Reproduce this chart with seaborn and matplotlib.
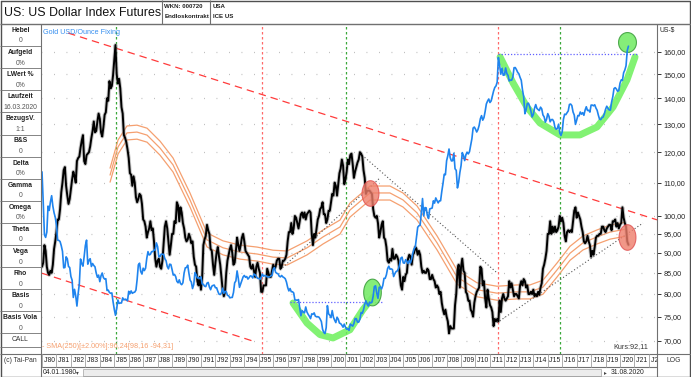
import numpy as np
import pandas as pd
import seaborn as sns
import matplotlib.pyplot as plt
from matplotlib.path import Path
from matplotlib.transforms import Bbox, TransformedBbox

# ---------------------------------------------------------------- data
# US Dollar Index, one value per month, Jan 1980 .. Aug 2020
usd = [
    86.5, 87.5, 92.0, 90.5, 86.5, 85.0, 84.5, 85.5, 85.0, 87.0, 91.0, 93.0,
    95.5, 99.0, 99.0, 102.0, 107.0, 110.0, 114.0, 115.0, 109.0, 106.0, 103.5, 105.0,
    108.0, 111.0, 113.5, 112.0, 110.0, 117.0, 118.0, 118.5, 121.5, 124.0, 126.0, 117.0,
    116.0, 119.0, 119.5, 120.0, 122.0, 125.0, 127.5, 131.0, 127.0, 127.5, 131.0, 134.0,
    132.0, 127.0, 125.5, 129.0, 133.5, 134.5, 140.0, 139.0, 147.0, 144.0, 145.0, 149.5,
    156.0, 163.0, 150.0, 146.0, 148.0, 144.0, 136.5, 134.0, 126.0, 125.0, 123.5, 121.0,
    118.0, 113.0, 112.5, 109.0, 112.0, 110.0, 105.5, 104.0, 105.0, 106.5, 106.0, 103.5,
    99.0, 98.5, 97.0, 94.0, 95.5, 96.5, 98.5, 96.0, 96.5, 93.0, 88.5, 86.5,
    88.0, 88.5, 86.5, 86.0, 88.0, 92.5, 97.0, 98.5, 96.5, 93.0, 89.5, 92.0,
    95.0, 95.0, 98.5, 98.0, 104.0, 103.0, 98.5, 102.5, 101.0, 98.0, 96.5, 94.0,
    93.0, 93.5, 95.0, 94.0, 92.5, 93.0, 89.0, 87.0, 86.5, 83.0, 82.0, 84.0,
    81.0, 84.0, 92.0, 93.5, 94.5, 97.5, 96.0, 95.0, 91.0, 90.5, 87.0, 84.5,
    87.5, 90.0, 91.5, 89.0, 87.0, 84.0, 81.0, 79.5, 80.5, 85.0, 88.0, 89.5,
    91.0, 92.0, 90.0, 87.0, 87.5, 90.5, 94.0, 92.0, 90.5, 92.0, 94.0, 95.0,
    93.0, 90.5, 90.0, 89.5, 89.0, 86.5, 86.0, 87.0, 85.5, 84.0, 86.5, 87.5,
    86.0, 85.0, 80.5, 80.5, 82.0, 82.0, 82.0, 86.0, 85.0, 84.0, 84.0, 85.5,
    87.0, 86.0, 86.5, 88.0, 88.5, 88.5, 86.0, 86.5, 88.0, 88.0, 88.5, 89.5,
    93.0, 95.5, 95.5, 98.0, 95.0, 96.5, 100.0, 99.5, 98.0, 96.5, 98.5, 100.5,
    101.0, 99.5, 101.0, 99.0, 100.5, 101.0, 101.5, 101.0, 95.0, 92.0, 95.0, 94.0,
    96.5, 99.0, 100.0, 102.0, 102.5, 104.0, 100.5, 100.5, 98.0, 99.0, 101.5, 101.5,
    104.0, 106.5, 106.0, 110.0, 109.0, 106.0, 109.5, 113.0, 114.5, 117.5, 115.5, 109.5,
    111.0, 113.5, 117.5, 116.0, 119.0, 119.5, 116.0, 111.5, 113.5, 115.0, 116.5, 117.5,
    120.0, 119.5, 118.5, 114.0, 111.5, 106.5, 107.5, 107.5, 107.5, 107.0, 106.5, 102.0,
    100.0, 99.5, 100.0, 98.0, 94.0, 95.5, 97.5, 98.5, 94.0, 93.5, 91.5, 88.0,
    87.5, 88.5, 88.0, 91.0, 88.5, 88.5, 89.5, 89.0, 88.0, 85.0, 82.0, 81.0,
    84.0, 83.0, 84.5, 85.0, 88.5, 89.5, 89.0, 87.0, 89.5, 90.0, 91.5, 91.0,
    89.5, 90.5, 89.5, 86.5, 85.0, 85.5, 85.0, 85.0, 86.0, 85.5, 83.5, 83.5,
    84.5, 83.5, 83.0, 81.5, 82.0, 81.5, 80.0, 80.5, 78.0, 76.5, 75.5, 76.5,
    75.0, 74.0, 71.5, 73.0, 72.5, 72.5, 72.5, 77.5, 80.0, 85.5, 87.0, 81.5,
    86.5, 88.5, 85.5, 85.0, 80.5, 80.0, 78.5, 78.5, 76.5, 76.0, 75.0, 78.0,
    79.5, 80.5, 81.0, 81.5, 86.5, 86.0, 82.0, 83.0, 79.0, 77.0, 81.0, 79.0,
    77.5, 77.0, 76.0, 73.0, 74.5, 74.0, 74.5, 74.0, 78.5, 76.0, 79.0, 80.0,
    79.0, 78.5, 79.0, 79.5, 83.0, 81.5, 82.5, 81.0, 79.5, 80.0, 80.0, 79.5,
    79.0, 82.0, 83.0, 82.0, 83.5, 83.0, 81.5, 82.0, 80.0, 80.0, 80.5, 80.0,
    81.0, 79.5, 80.0, 79.5, 80.5, 79.8, 81.5, 82.5, 86.0, 87.0, 88.5, 90.5,
    95.0, 95.0, 98.5, 95.0, 97.0, 95.5, 97.0, 95.5, 96.0, 97.0, 100.0, 98.5,
    99.5, 98.0, 94.5, 93.0, 95.5, 96.0, 95.5, 96.0, 95.5, 98.5, 101.5, 102.5,
    99.5, 101.0, 100.0, 99.0, 97.0, 95.5, 93.0, 92.5, 93.0, 94.5, 93.0, 92.0,
    89.0, 90.5, 89.5, 91.5, 94.0, 94.5, 94.5, 95.0, 95.0, 97.0, 97.0, 96.0,
    95.5, 96.5, 97.0, 97.5, 97.5, 96.0, 98.5, 98.5, 99.0, 97.0, 98.0, 96.5,
    97.5, 98.0, 102.5, 99.5, 98.0, 97.0, 93.0, 92.1,
]

# Gold USD/Ounce fixing, one value per month, Jan 1980 .. Aug 2020
gold = [
    820, 660, 520, 510, 530, 640, 620, 660, 690, 640, 610, 590,
    557, 500, 499, 495, 480, 461, 409, 410, 443, 437, 413, 410,
    384, 374, 330, 350, 334, 310, 339, 364, 436, 422, 414, 444,
    481, 500, 420, 432, 437, 413, 422, 416, 412, 394, 382, 388,
    370, 386, 394, 381, 377, 378, 347, 348, 342, 340, 341, 320,
    303, 290, 304, 324, 316, 317, 317, 329, 324, 326, 325, 322,
    345, 339, 346, 340, 342, 343, 348, 376, 418, 423, 398, 391,
    408, 401, 408, 438, 460, 449, 451, 460, 460, 465, 466, 490,
    477, 443, 444, 452, 451, 451, 437, 431, 413, 406, 420, 419,
    404, 388, 390, 384, 371, 367, 375, 365, 362, 367, 394, 409,
    410, 417, 393, 374, 369, 352, 362, 395, 389, 380, 381, 378,
    383, 364, 363, 358, 357, 366, 368, 356, 349, 358, 360, 361,
    354, 354, 345, 338, 337, 341, 353, 340, 345, 344, 335, 334,
    329, 330, 330, 342, 367, 372, 400, 379, 355, 364, 373, 383,
    387, 382, 384, 377, 381, 386, 385, 380, 391, 389, 384, 379,
    379, 376, 382, 391, 385, 387, 386, 383, 383, 383, 386, 387,
    405, 410, 396, 393, 392, 385, 383, 387, 383, 381, 378, 369,
    355, 346, 352, 344, 344, 341, 324, 324, 323, 325, 306, 289,
    300, 297, 295, 308, 297, 292, 288, 283, 293, 292, 295, 288,
    287, 287, 286, 282, 277, 262, 256, 254, 265, 311, 293, 290,
    285, 300, 286, 280, 275, 286, 282, 274, 273, 270, 266, 272,
    266, 262, 263, 260, 272, 270, 268, 273, 283, 283, 276, 276,
    282, 296, 294, 302, 314, 322, 314, 310, 319, 317, 319, 333,
    357, 359, 340, 328, 355, 356, 351, 360, 379, 379, 389, 407,
    414, 405, 406, 404, 384, 392, 398, 400, 406, 420, 439, 442,
    424, 423, 434, 429, 422, 431, 424, 437, 456, 470, 476, 510,
    549, 555, 557, 610, 676, 596, 633, 632, 598, 585, 627, 629,
    631, 665, 654, 679, 666, 655, 665, 665, 712, 754, 806, 803,
    889, 922, 968, 909, 888, 889, 939, 839, 829, 730, 760, 816,
    858, 943, 924, 890, 928, 946, 934, 949, 996, 1043, 1127, 1135,
    1118, 1095, 1114, 1148, 1205, 1233, 1193, 1215, 1271, 1342, 1370, 1391,
    1356, 1372, 1424, 1473, 1512, 1529, 1572, 1880, 1780, 1665, 1739, 1652,
    1656, 1742, 1673, 1650, 1585, 1596, 1594, 1630, 1745, 1747, 1721, 1688,
    1670, 1627, 1593, 1487, 1414, 1250, 1286, 1347, 1349, 1316, 1275, 1221,
    1244, 1300, 1336, 1299, 1288, 1279, 1311, 1295, 1239, 1222, 1176, 1201,
    1251, 1227, 1179, 1198, 1199, 1181, 1131, 1117, 1125, 1159, 1086, 1068,
    1097, 1200, 1246, 1242, 1259, 1276, 1337, 1341, 1326, 1266, 1238, 1157,
    1192, 1234, 1231, 1266, 1246, 1260, 1236, 1283, 1315, 1280, 1282, 1265,
    1331, 1331, 1324, 1334, 1303, 1282, 1238, 1202, 1198, 1215, 1221, 1250,
    1291, 1320, 1300, 1285, 1283, 1359, 1413, 1500, 1510, 1495, 1471, 1480,
    1560, 1597, 1591, 1683, 1716, 1770, 1975, 2040,
]

# SMA(250) mid line of the envelope (dollar index)
sma_years = [1984.71, 1985.26, 1985.88, 1986.57, 1987.27, 1988.17, 1989.07, 1990.24,
             1991.42, 1992.53, 1993.70, 1994.88, 1995.99, 1996.96, 1998.34, 1999.45,
             2000.62, 2001.31, 2002.70, 2004.08, 2004.98, 2005.95, 2007.34, 2008.72,
             2010.10, 2011.49, 2012.87, 2013.77, 2014.67, 2015.64, 2016.54, 2017.44,
             2018.41, 2019.31, 2020.30]
sma_mid = [112.4, 121.8, 126.8, 127.1, 126.0, 121.4, 115.7, 104.7,
           93.4, 91.3, 90.2, 89.7, 88.9, 88.7, 91.3, 94.2,
           96.9, 101.7, 106.8, 106.8, 104.7, 100.9, 92.6, 84.0,
           81.0, 80.2, 80.5, 80.5, 81.6, 85.7, 89.9, 92.6,
           94.2, 95.5, 96.24]
sma_band = 0.02

# trend lines (dollar scale)
red_upper_x, red_upper_y = [1981.8, 2022.56], [168.7, 98.9]
red_lower_x, red_lower_y = [1980.0, 1994.74], [84.9, 69.8]
grey_lines = [([1996.47, 2003.39], [85.7, 111.5]),
              ([2002.15, 2011.49], [119.0, 85.0]),
              ([2011.49, 2021.59], [73.7, 98.0])]
# horizontal resistance lines (gold scale)
blue_levels = [([2011.56, 2021.2], 1928), ([1997.16, 2003.53], 320)]
# rounded-bottom arcs (gold scale)
arc_top_x = [2011.70, 2012.60, 2013.56, 2014.46, 2015.85, 2017.23, 2018.41, 2019.52, 2020.48, 2021.04]
arc_top_y = [1886, 1562, 1313, 1169, 1072, 1072, 1136, 1313, 1597, 1886]
arc_low_x = [1997.37, 1998.34, 1999.24, 2000.14, 2001.31, 2002.21, 2002.91]
arc_low_y = [317, 274, 252, 246, 261, 302, 331]
# highlighted spots
green_spots_x, green_spots_y = [2020.48, 2002.84], [2103, 343]
red_spots_x, red_spots_y = [2002.70, 2020.48], [106.8, 94.2]
# vertical markers
event_years = [1985.1, 1995.25, 2001.05, 2011.55, 2015.85]
event_colors = ['#3aa83a', '#ff6a6a', '#3aa83a', '#ff6a6a', '#3aa83a']

usd_ticks = [160, 150, 140, 130, 120, 110, 100, 95, 90, 85, 80, 75, 70]
side_items = [('Hebel', '0'), ('Aufgeld', '0%'), ('LWert %', '0%'),
              ('Laufzeit', '16.03.2020'), ('BezugsV.', '1:1'), ('B&S', '0'),
              ('Delta', '0%'), ('Gamma', '0'), ('Omega', '0%'), ('Theta', '0'),
              ('Vega', '0'), ('Rho', '0'), ('Basis', '0'), ('Basis Vola', '0')]

# ---------------------------------------------------------------- frames
usd_df = pd.DataFrame({'year': 1980 + np.arange(len(usd)) / 12, 'value': usd})
gold_df = pd.DataFrame({'year': 1980 + np.arange(len(gold)) / 12, 'value': gold})
sma_mid = np.array(sma_mid)
sma_df = pd.concat([
    pd.DataFrame({'year': sma_years, 'value': sma_mid * f, 'band': b})
    for b, f in [('up', 1 + sma_band), ('mid', 1.0), ('low', 1 - sma_band)]
])

sns.set_style('white')
plt.rcParams['font.family'] = ['Liberation Sans', 'DejaVu Sans']

W, H = 691, 377
fig = plt.figure(figsize=(W / 100, H / 100), dpi=100)
L, R, T, B = 41, 657, 24, 354
ax = fig.add_axes([L / W, (H - B) / H, (R - L) / W, (B - T) / H])
ax.set_yscale('log')
ax.set_xlim(1979.93, 2022.56)
ax.set_ylim(67.4, 173.1)

# grid and event lines
for v in usd_ticks:
    ax.axhline(v, color='#b8b8b8', lw=0.9, ls=(0, (0.7, 9.3)), zorder=0)
for yr, c in zip(event_years, event_colors):
    ax.axvline(yr, color=c, lw=0.9, ls=(0, (2, 2)), zorder=1)

# SMA envelope
sns.lineplot(data=sma_df, x='year', y='value', units='band', estimator=None,
             color='#f5a070', lw=0.9, ax=ax, zorder=2)

# trend lines
ax.plot(red_upper_x, red_upper_y, color='#ff3b3b', lw=0.9, ls=(0, (6, 4)), zorder=3)
ax.plot(red_lower_x, red_lower_y, color='#ff3b3b', lw=0.9, ls=(0, (6, 4)), zorder=3)
for gx, gy in grey_lines:
    ax.plot(gx, gy, color='#555555', lw=0.8, ls=(0, (1, 2)), zorder=3)

# dollar index (grey halo for the daily range, black line on top)
sns.lineplot(data=usd_df, x='year', y='value', color='#808080', lw=2.8, alpha=0.45,
             ax=ax, zorder=4)
sns.lineplot(data=usd_df, x='year', y='value', color='black', lw=1.4, ax=ax, zorder=4)

# ellipse marker
t = np.linspace(0, 2 * np.pi, 60)
ell = Path(np.column_stack([0.66 * np.cos(t), np.sin(t)]))
ell_g = Path(np.column_stack([0.9 * np.cos(t), np.sin(t)]))
ax.scatter(red_spots_x, red_spots_y, marker=ell, s=340, color='#ee7d6a',
           alpha=0.8, edgecolors='#e05050', linewidths=0.8, zorder=5)

# gold axis
ax2 = ax.twinx()
ax2.set_yscale('log')
ax2.set_ylim(219, 2396)
ax2.set_xlim(1979.93, 2022.56)
ax2.plot(arc_top_x, arc_top_y, color='#6cf05a', lw=5, alpha=0.85,
         solid_capstyle='round', zorder=1)
ax2.plot(arc_low_x, arc_low_y, color='#6cf05a', lw=5, alpha=0.85,
         solid_capstyle='round', zorder=1)
for (bx, lvl) in blue_levels:
    ax2.plot(bx, [lvl, lvl], color='#6060ff', lw=0.9, ls=(0, (1, 1.5)), zorder=2)
ax2.scatter(green_spots_x[:1], green_spots_y[:1], marker=ell_g, s=205,
            color='#78ec6a', alpha=0.9, edgecolors='#40a040', linewidths=0.8, zorder=2)
ax2.scatter(green_spots_x[1:], green_spots_y[1:], marker=ell, s=370,
            color='#78ec6a', alpha=0.9, edgecolors='#40a040', linewidths=0.8, zorder=2)
sns.lineplot(data=gold_df, x='year', y='value', color='#1f84ee', lw=1.2, ax=ax2, zorder=3)

for a in (ax, ax2):
    a.set_xlabel('')
    a.set_ylabel('')
    a.set_xticks([])
    a.minorticks_off()
    for s in a.spines.values():
        s.set_visible(False)
ax2.set_yticks([])
ax.yaxis.tick_right()
ax.set_yticks(usd_ticks)
ax.set_yticklabels([f'{v:.2f}'.replace('.', ',') for v in usd_ticks])
ax.tick_params(axis='y', which='major', length=3, width=0.7, color='#333333',
               labelsize=5.2, pad=1.5, labelcolor='#222222', right=True, left=False)
ax.tick_params(axis='y', which='minor', length=0)

ax.text(0.003, 0.985, 'Gold USD/Ounce Fixing', transform=ax.transAxes,
        color='#3890f0', fontsize=5.2, va='top', ha='left')
ax.text(0.002, 0.012, '- SMA(250)[±2.00%]:96,24[98,16 -94,31]', transform=ax.transAxes,
        color='#f5a070', fontsize=5.2, va='bottom', ha='left')
ax.text(0.985, 0.012, 'Kurs:92,11', transform=ax.transAxes,
        color='#333333', fontsize=5.2, va='bottom', ha='right')

# ---------------------------------------------------------------- frame / panels
ov = fig.add_axes([0, 0, 1, 1], zorder=10)
ov.set_xlim(0, W)
ov.set_ylim(H, 0)
ov.axis('off')
ov.patch.set_alpha(0)
lc = '#707070'


def hline(y, x0, x1, c=lc, lw=0.8):
    ov.plot([x0, x1], [y, y], color=c, lw=lw, solid_capstyle='butt')


def vline(x, y0, y1, c=lc, lw=0.8):
    ov.plot([x, x], [y0, y1], color=c, lw=lw, solid_capstyle='butt')


ov.plot([0.5, W - 0.5, W - 0.5, 0.5, 0.5], [0.5, 0.5, H - 0.5, H - 0.5, 0.5],
        color='#505050', lw=1.0)
hline(T, 0, W, lw=1.0)
vline(162, 0, T)
vline(210, 0, T)
vline(L, T, H)
vline(R, T, H)
hline(B, 0, W)
hline(367, L, R)

ov.text(4, 12.5, 'US: US Dollar Index Futures', fontsize=8.9, va='center', ha='left',
        color='#111111')
ov.text(164.5, 6.5, 'WKN: 000720', fontsize=4.4, fontweight='bold', va='center', color='#222222')
ov.text(164.5, 17, 'Endloskontrakt', fontsize=4.4, fontweight='bold', va='center', color='#222222')
ov.text(213, 6.5, 'USA', fontsize=4.4, fontweight='bold', va='center', color='#222222')
ov.text(213, 17, 'ICE US', fontsize=4.4, fontweight='bold', va='center', color='#222222')

# sidebar
for i, (lab, val) in enumerate(side_items):
    y0 = T + i * 22.1
    ov.text(L / 2, y0 + 6.5, lab, fontsize=4.9, fontweight='bold', ha='center',
            va='center', color='#222222')
    ov.text(L / 2, y0 + 17, val, fontsize=4.9, ha='center', va='center', color='#555555')
    hline(y0 + 22.1, 0, L, lw=0.6)
ov.text(L / 2, 339.5, 'CALL', fontsize=4.9, ha='center', va='center', color='#333333')
hline(346.5, 0, L, lw=0.6)
ov.text(L / 2, 361, '(c) Tai-Pan', fontsize=4.9, ha='center', va='center', color='#333333')

# right panel
ov.text(660, 30, 'US-$', fontsize=4.9, va='center', color='#222222')
ov.text(674, 360.5, 'LOG', fontsize=4.9, va='center', ha='center', color='#333333')

# date boxes, clipped to the date strip
strip = TransformedBbox(Bbox([[L, B], [R, 367]]), ov.transData)
for yr in range(1980, 2023):
    x0 = L + 1 + (yr - 1980) * 14.45
    ov.plot([x0, x0], [B, 367], color='#a0a0a0', lw=0.6)
    lab = ov.text(x0 + 1.5, 361, "J'" + str(yr)[2:], fontsize=4.9, va='center',
                  ha='left', color='#222222')
    lab.set_clip_box(strip)
    lab.set_clip_on(True)

# scroll row
ov.text(43, 372.5, '04.01.1980', fontsize=4.9, va='center', color='#222222')
ov.add_patch(plt.Rectangle((83, 368.5), 518, 7, facecolor='#ececec',
                           edgecolor='#b0b0b0', lw=0.6))
ov.text(77, 372.5, '▾', fontsize=4, va='center', ha='center', color='#444444')
ov.text(605, 372.5, '▸', fontsize=4, va='center', ha='center', color='#444444')
ov.text(611, 372.5, '31.08.2020', fontsize=4.9, va='center', color='#222222')

fig.savefig('out.png', dpi=100)
